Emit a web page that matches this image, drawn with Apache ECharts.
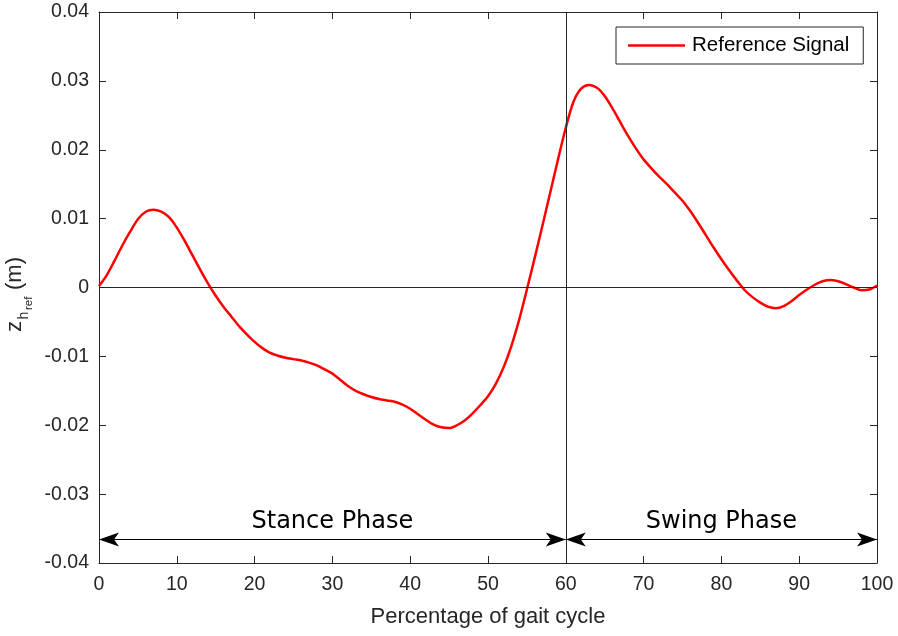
<!DOCTYPE html>
<html>
<head>
<meta charset="utf-8">
<script src="https://cdn.jsdelivr.net/npm/echarts@6/dist/echarts.min.js"></script>
<style>
html,body{margin:0;padding:0;background:#fff;}
#chart{width:898px;height:636px;}
</style>
</head>
<body>
<div id="chart"></div>
<script>
// Percentage of gait cycle (x) and reference signal z_href in metres (y)
const pct = [0, 1, 2, 3, 4, 5, 6, 7, 8, 9, 10, 11, 12, 13, 14, 15, 16, 17, 18, 19, 20, 21, 22, 23, 24, 25, 26, 27, 28, 29, 30, 31, 32, 33, 34, 35, 36, 37, 38, 39, 40, 41, 42, 43, 44, 45, 46, 47, 48, 49, 50, 51, 52, 53, 54, 55, 56, 57, 58, 59, 60, 61, 62, 63, 64, 65, 66, 67, 68, 69, 70, 71, 72, 73, 74, 75, 76, 77, 78, 79, 80, 81, 82, 83, 84, 85, 86, 87, 88, 89, 90, 91, 92, 93, 94, 95, 96, 97, 98, 99, 100];
const zref = [
  0.0002, 0.0018, 0.0039, 0.0061, 0.0081, 0.0099, 0.0110, 0.0113, 0.0110, 0.0102,
  0.0087, 0.0068, 0.0047, 0.0026, 0.0006, -0.0012, -0.0028, -0.0042, -0.0056, -0.0068,
  -0.0079, -0.0088, -0.0095, -0.0099, -0.0102, -0.0104, -0.0106, -0.0109, -0.0113, -0.0119,
  -0.0125, -0.0134, -0.0143, -0.0150, -0.0155, -0.0159, -0.0162, -0.0164, -0.0166, -0.0170,
  -0.0176, -0.0184, -0.0192, -0.0199, -0.0203, -0.0204, -0.0200, -0.0193, -0.0183, -0.0171,
  -0.0158, -0.0140, -0.0116, -0.0085, -0.0047, -0.0003, 0.0043, 0.0090, 0.0138, 0.0186,
  0.0232, 0.0270, 0.0289, 0.0294, 0.0290, 0.0278, 0.0260, 0.0240, 0.0220, 0.0202,
  0.0186, 0.0173, 0.0161, 0.0150, 0.0138, 0.0126, 0.0111, 0.0094, 0.0076, 0.0058,
  0.0041, 0.0025, 0.0010, -0.0004, -0.0014, -0.0022, -0.0028, -0.0030, -0.0027, -0.0020,
  -0.0011, -0.0003, 0.0004, 0.0009, 0.0011, 0.0009, 0.0005, 0.0000, -0.0004, -0.0003,
  0.0003
];
const seriesName = 'Reference Signal';
const xTitle = 'Percentage of gait cycle';
// Phase annotations: [start %, end %, label]
const phases = [[0, 60, 'Stance Phase'], [60, 100, 'Swing Phase']];
const phaseArrowLevel = -0.0366;
const phaseBoundary = 60;

const AX = '#262626';
const FONT = '"Liberation Sans", Arial, Helvetica, sans-serif';
const arrowPath = 'path://M7,0 M7,20 L14,40 L7,35 L0,40 Z';

const chart = echarts.init(document.getElementById('chart'), null, {renderer: 'canvas'});

const axisCommon = {
  axisLine: {show: true, onZero: false, lineStyle: {color: AX, width: 1}},
  axisTick: {show: true, inside: true, length: 7, lineStyle: {color: AX, width: 1}},
  splitLine: {show: false}
};

const option = {
  animation: false,
  backgroundColor: '#fff',
  grid: {left: 99, right: 21, top: 12, bottom: 73, containLabel: false},
  legend: {
    data: [{name: seriesName, icon: 'rect'}],
    left: 616, top: 27,
    orient: 'horizontal',
    backgroundColor: '#fff',
    borderColor: AX, borderWidth: 1, borderRadius: 0,
    padding: [8, 14, 8, 12],
    itemWidth: 57, itemHeight: 2.5,
    itemStyle: {color: '#ff0000'},
    textStyle: {fontFamily: FONT, fontSize: 20.5, color: '#000', padding: [0, 0, 0, 2]}
  },
  xAxis: [
    Object.assign({}, axisCommon, {
      type: 'value', min: 0, max: 100, interval: 10, position: 'bottom',
      name: xTitle, nameLocation: 'middle', nameGap: 43,
      nameTextStyle: {fontFamily: FONT, fontSize: 22, color: AX},
      axisLabel: {fontFamily: FONT, fontSize: 19.5, color: AX, margin: 12}
    }),
    Object.assign({}, axisCommon, {
      type: 'value', min: 0, max: 100, interval: 10, position: 'top',
      axisLabel: {show: false}
    })
  ],
  yAxis: [
    Object.assign({}, axisCommon, {
      type: 'value', min: -0.04, max: 0.04, interval: 0.01, position: 'left',
      axisLabel: {fontFamily: FONT, fontSize: 19.5, color: AX, margin: 10}
    }),
    Object.assign({}, axisCommon, {
      type: 'value', min: -0.04, max: 0.04, interval: 0.01, position: 'right',
      axisLabel: {show: false}
    })
  ],
  graphic: [{
    type: 'group', x: 26, y: 332, rotation: Math.PI / 2, silent: true,
    children: [
      {type: 'text', x: 0, y: 0, style: {text: 'z', fontFamily: FONT, fontSize: 22, fill: AX, align: 'left', verticalAlign: 'bottom'}},
      {type: 'text', x: 12.5, y: 5, style: {text: 'h', fontFamily: FONT, fontSize: 14, fill: AX, align: 'left', verticalAlign: 'bottom'}},
      {type: 'text', x: 22, y: 9, style: {text: 'ref', fontFamily: FONT, fontSize: 11.5, fill: AX, align: 'left', verticalAlign: 'bottom'}},
      {type: 'text', x: 42, y: 0, style: {text: '(m)', fontFamily: FONT, fontSize: 22, fill: AX, align: 'left', verticalAlign: 'bottom'}}
    ]
  }],
  series: [{
    name: seriesName,
    type: 'line',
    xAxisIndex: 0, yAxisIndex: 0,
    data: pct.map((x, i) => [x, zref[i]]),
    smooth: 0.3,
    showSymbol: false, symbol: 'none',
    lineStyle: {color: '#ff0000', width: 2.5},
    itemStyle: {color: '#ff0000'},
    z: 3,
    markLine: {
      silent: true,
      animation: false,
      symbol: ['none', 'none'],
      lineStyle: {color: AX, width: 1, type: 'solid'},
      label: {show: false},
      emphasis: {disabled: true},
      data: [
        {xAxis: phaseBoundary},
        {yAxis: 0}
      ].concat(phases.map(p => [
        {coord: [p[0], phaseArrowLevel], symbol: arrowPath, symbolSize: [14, 40],
         lineStyle: {color: '#000', width: 1.2},
         label: {show: true, position: 'middle', formatter: p[2], fontFamily: '"DejaVu Sans", Verdana, sans-serif', fontSize: 24, color: '#000', distance: 6}},
        {coord: [p[1], phaseArrowLevel], symbol: arrowPath, symbolSize: [14, 40]}
      ]))
    }
  }]
};
chart.setOption(option);
</script>
</body>
</html>
